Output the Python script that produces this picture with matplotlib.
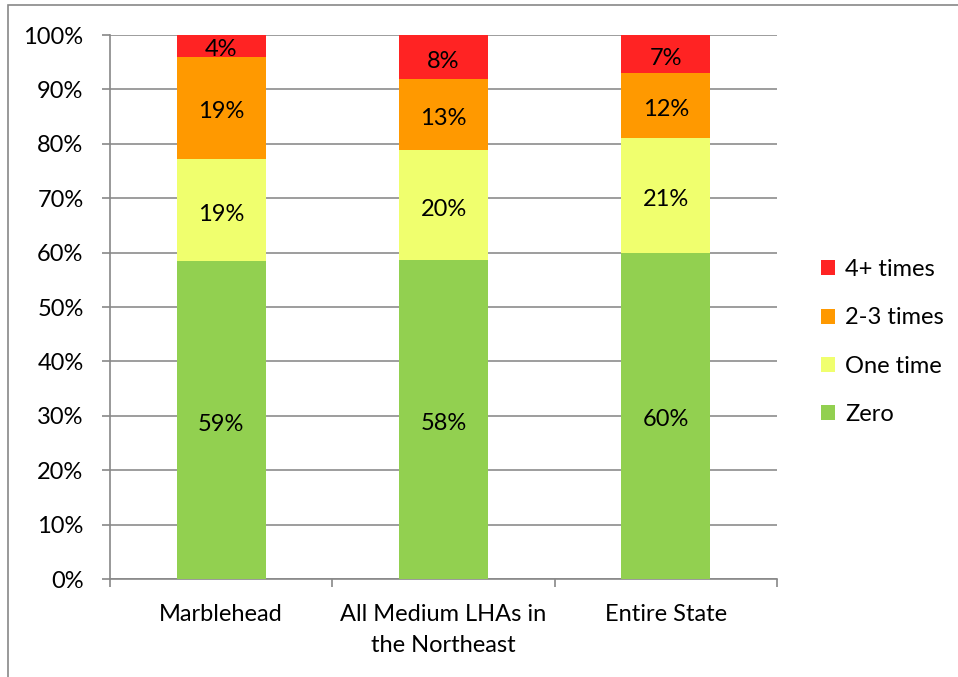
import numpy as np
import matplotlib.pyplot as plt
from matplotlib.patches import Rectangle

plt.rcParams['font.family'] = ['Lato', 'DejaVu Sans']

regions = ['Marblehead', 'All Medium LHAs in\nthe Northeast', 'Entire State']
series = ['Zero', 'One time', '2-3 times', '4+ times']
zero = [59, 58, 60]
one_time = [19, 20, 21]
two_three = [19, 13, 12]
four_plus = [4, 8, 7]
colors = ['#92D050', '#F0FF6E', '#FF9900', '#FF2323']

vals = np.array([zero, one_time, two_three, four_plus], dtype=float)
shares = vals / vals.sum(axis=0) * 100

fs = 17
fig = plt.figure(figsize=(9.58, 6.77), dpi=100)
ax = fig.add_axes([110 / 958, 1 - 579 / 677, (777 - 110) / 958, (579 - 35) / 677])

x = np.arange(len(regions))
bottom = np.zeros(len(regions))
handles = []
for k, name in enumerate(series):
    bars = ax.bar(x, shares[k], 0.4, bottom=bottom, color=colors[k],
                  label=name, zorder=3)
    handles.append(bars)
    for i in range(len(regions)):
        ax.annotate('%d%%' % vals[k][i], (x[i], bottom[i] + shares[k][i] / 2),
                    xytext=(0, -3), textcoords='offset points',
                    ha='center', va='center', fontsize=fs, zorder=4)
    bottom += shares[k]

ax.set_xlim(-0.5, 2.5)
ax.set_ylim(0, 100)
ax.set_yticks(np.arange(0, 101, 10))
ax.set_yticklabels(['%d%%' % v for v in range(0, 101, 10)], fontsize=fs)
ax.set_xticks(x)
ax.set_xticklabels(regions, fontsize=fs, linespacing=1.6)
ax.tick_params(axis='x', length=0, pad=18)
ax.set_xticks([-0.5, 0.5, 1.5, 2.5], minor=True)
ax.tick_params(axis='x', which='minor', length=6, color='#888888', width=1.2)
ax.tick_params(axis='y', length=6, color='#888888', width=1.2, pad=13)
ax.grid(axis='y', color='#8C8C8C', linewidth=1.2, zorder=0)
for side in ['top', 'right']:
    ax.spines[side].set_visible(False)
for side in ['left', 'bottom']:
    ax.spines[side].set_color('#888888')
    ax.spines[side].set_linewidth(1.2)

fig.legend(handles[::-1], series[::-1], loc='center left',
           bbox_to_anchor=(800 / 958, 1 - 342 / 677), frameon=False,
           fontsize=fs, handlelength=0.6, handleheight=0.6,
           handletextpad=0.4, labelspacing=1.15)

# outer chart border
fig.patches.append(Rectangle((8 / 958, -0.1), 1.2, 1 - 5 / 677 + 0.1,
                             transform=fig.transFigure, fill=False,
                             edgecolor='#888888', linewidth=1.2))

fig.savefig('out.png', dpi=100)
